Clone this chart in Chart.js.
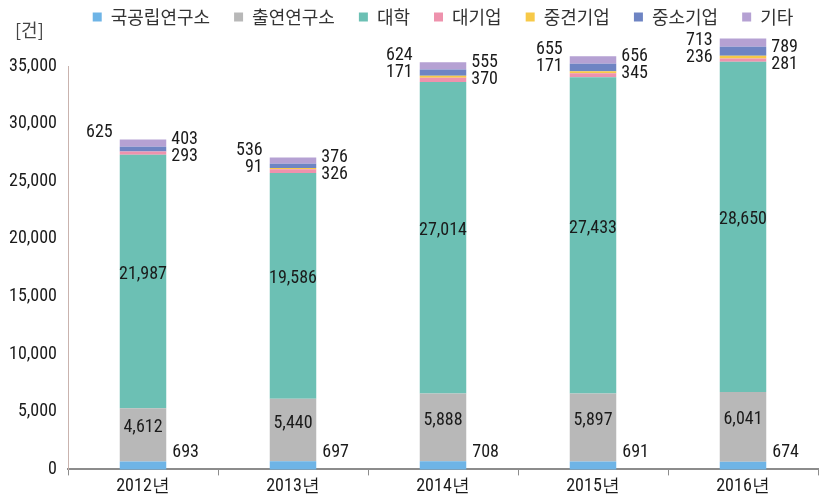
<!DOCTYPE html>
<html>
<head>
<meta charset="utf-8">
<script src="https://cdn.jsdelivr.net/npm/chart.js@4.4.1/dist/chart.umd.min.js"></script>
<style>
  html, body { margin: 0; padding: 0; background: #fff; }
  #wrap { width: 822px; height: 499px; position: relative; }
</style>
</head>
<body>
<div id="wrap"><canvas id="chart"></canvas></div>
<script>
const years = ['2012년', '2013년', '2014년', '2015년', '2016년'];
const seriesNames = ['국공립연구소', '출연연구소', '대학', '대기업', '중견기업', '중소기업', '기타'];

const publicLabs = [693, 697, 708, 691, 674];
const govInstitutes = [4612, 5440, 5888, 5897, 6041];
const universities = [21987, 19586, 27014, 27433, 28650];
const largeFirms = [293, 326, 370, 345, 281];
const midFirms = [null, 91, 171, 171, 236];
const smallFirms = [403, 376, 555, 656, 789];
const others = [625, 536, 624, 655, 713];

const seriesData = [publicLabs, govInstitutes, universities, largeFirms, midFirms, smallFirms, others];
const colors = ['#6eb4e6', '#b8b8b8', '#6cc0b4', '#ee92ad', '#f7c948', '#6e84c3', '#b5a1d3'];

const numFont = '"Roboto Condensed", "DejaVu Sans Condensed", sans-serif';
const krFont = '"Noto Sans CJK KR", sans-serif';

// move the legend row up to the top edge, like the original
const legendShift = {
  id: 'legendShift',
  afterLayout(chart) {
    const lg = chart.legend;
    const opts = lg.options.labels;
    lg.top = 17 - opts.padding - opts.font.size / 2;
  }
};

// value labels placed around each bar like the original figure
const labelPlugin = {
  id: 'barLabels',
  afterDatasetsDraw(chart) {
    const ctx = chart.ctx;
    ctx.save();
    ctx.fillStyle = '#1a1a1a';
    ctx.font = '18px ' + numFont;
    ctx.textBaseline = 'middle';
    const topMeta = chart.getDatasetMeta(6);
    years.forEach((y, i) => {
      let top = topMeta.data[i].y;
      // keep the small-value labels clear of the legend row
      if (top - 7 < 40) top = 47;
      seriesData.forEach((arr, d) => {
        const v = arr[i];
        if (v == null) return;
        const bar = chart.getDatasetMeta(d).data[i];
        const half = bar.width / 2;
        const txt = v.toLocaleString('en-US');
        let x, yy;
        if (d === 0) {
          ctx.textAlign = 'left'; x = bar.x + half + 6; yy = bar.y - 9;
        } else if (d === 1 || d === 2) {
          ctx.textAlign = 'center'; x = bar.x; yy = (bar.y + bar.base) / 2 - 7;
        } else if (d === 3) {
          ctx.textAlign = 'left'; x = bar.x + half + 5; yy = top + 17;
        } else if (d === 5) {
          ctx.textAlign = 'left'; x = bar.x + half + 5; yy = top;
        } else if (d === 4) {
          ctx.textAlign = 'right'; x = bar.x - half - 7; yy = top + 10;
        } else {
          ctx.textAlign = 'right'; x = bar.x - half - 7; yy = top - 7;
        }
        ctx.fillText(txt, x, yy);
      });
    });
    // unit label
    ctx.font = '18px ' + krFont;
    ctx.fillStyle = '#444';
    ctx.textAlign = 'left';
    ctx.fillText('[건]', 15, 30);
    ctx.restore();
  }
};

new Chart(document.getElementById('chart'), {
  type: 'bar',
  data: {
    labels: years,
    datasets: seriesNames.map((name, d) => ({
      label: name,
      data: seriesData[d],
      backgroundColor: colors[d],
      borderWidth: 0,
      clip: false,
      categoryPercentage: 1,
      barPercentage: 0.31
    }))
  },
  options: {
    responsive: true,
    maintainAspectRatio: false,
    animation: false,
    layout: { padding: { top: 14, right: 4, bottom: 2, left: 0 } },
    plugins: {
      legend: {
        position: 'top',
        fullSize: false,
        labels: {
          boxWidth: 9,
          boxHeight: 9,
          padding: 24,
          color: '#333',
          font: { family: krFont, size: 18 }
        }
      },
      tooltip: { enabled: false }
    },
    scales: {
      x: {
        stacked: true,
        grid: { display: true, offset: true, drawOnChartArea: false, drawTicks: true, tickLength: 6, color: '#8c8c8c', lineWidth: 1 },
        border: { color: '#8c8c8c', width: 2 },
        ticks: { color: '#1a1a1a', font: { family: numFont, size: 18 }, padding: 0 }
      },
      y: {
        stacked: true,
        min: 0,
        max: 35000,
        afterFit(scale) { scale.width = 68; },
        grid: { display: false, drawTicks: false },
        border: { color: '#c9b3ae', width: 1 },
        ticks: { stepSize: 5000, color: '#1a1a1a', font: { family: numFont, size: 18 }, padding: 11 }
      }
    }
  },
  plugins: [legendShift, labelPlugin]
});
</script>
</body>
</html>
